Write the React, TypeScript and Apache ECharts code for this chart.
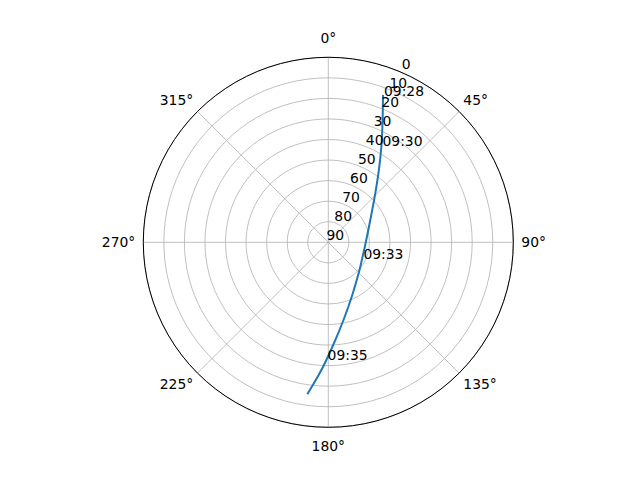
import React, { useEffect, useRef } from "react";
import * as echarts from "echarts";

// Track: radial value (0 at rim, 90 at centre) and azimuth (deg)
const trackRadius = [13.56, 24.9, 36.05, 47.07, 57.66, 66.87, 70.2, 72.0, 71.84, 69.7, 61.83, 51.48, 39.98, 27.78, 15.35];
const trackAzimuth = [20.37, 23.94, 28.67, 34.98, 44.63, 62.04, 76.07, 94.18, 114.03, 131.6, 155.52, 168.93, 177.27, 183.09, 187.87];

// Time annotations
const timeLabels = ["09:28", "09:30", "09:33", "09:35"];
const timeRadius = [13.56, 36.05, 71.84, 33.22];
const timeAzimuth = [20.37, 28.67, 114.03, 180.83];

// Radial tick labels
const radialTicks = [0, 10, 20, 30, 40, 50, 60, 70, 80, 90];
const radialLabelAngle = 22.5;

const FONT = "DejaVu Sans";
const FS = 13.9;

const plainText = {
  color: "#000000",
  opacity: 1,
  textBorderWidth: 0,
  textBorderColor: "#000000",
  textShadowBlur: 0,
  fontFamily: FONT,
  fontSize: FS,
};

export default function App() {
  const ref = useRef<HTMLDivElement>(null);
  useEffect(() => {
    if (!ref.current) return;
    const chart = echarts.init(ref.current, undefined, { renderer: "svg" });
    chart.setOption({
      animation: false,
      backgroundColor: "#ffffff",
      polar: { center: [328.3, 242.3], radius: 185 },
      angleAxis: {
        type: "value",
        min: 0,
        max: 360,
        interval: 45,
        startAngle: 90,
        clockwise: true,
        axisLine: { show: true, lineStyle: { color: "#000000", width: 1 } },
        axisTick: { show: false },
        axisLabel: {
          show: true,
          margin: 6,
          color: "#000000",
          fontFamily: FONT,
          fontSize: FS,
          formatter: (v: number) => {
            if (v >= 360) return "";
            return v % 90 === 0 ? `{a|${v}°}` : `{b|${v}°}`;
          },
          rich: {
            a: { padding: [6, 2, 6, 2], color: "#000000", fontFamily: FONT, fontSize: FS },
            b: { color: "#000000", fontFamily: FONT, fontSize: FS },
          },
        },
        splitLine: { show: true, lineStyle: { color: "#b0b0b0", width: 0.8 } },
        z: 3,
      },
      radiusAxis: {
        type: "value",
        min: 0,
        max: 90,
        interval: 10,
        inverse: true,
        axisLine: { show: false },
        axisTick: { show: false },
        axisLabel: { show: false },
        splitLine: { show: true, lineStyle: { color: "#b0b0b0", width: 0.8 } },
        z: 1,
      },
      series: [
        {
          type: "line",
          coordinateSystem: "polar",
          data: trackRadius.map((r, i) => [r, trackAzimuth[i]]),
          smooth: 0.3,
          showSymbol: false,
          lineStyle: { color: "#1f77b4", width: 2 },
          z: 4,
        },
        {
          type: "scatter",
          coordinateSystem: "polar",
          symbolSize: 0,
          silent: true,
          itemStyle: { opacity: 1 },
          data: radialTicks.map((r) => [r, radialLabelAngle]),
          label: {
            show: true,
            position: [7, -7],
            align: "center",
            verticalAlign: "middle",
            ...plainText,
            formatter: (p: any) => String(p.value[0]),
          },
          z: 5,
        },
        {
          type: "scatter",
          coordinateSystem: "polar",
          symbolSize: 0,
          silent: true,
          itemStyle: { opacity: 1 },
          data: timeLabels.map((t, i) => ({ value: [timeRadius[i], timeAzimuth[i]], name: t })),
          label: {
            show: true,
            position: [1, 3],
            align: "left",
            verticalAlign: "bottom",
            ...plainText,
            formatter: (p: any) => p.name,
          },
          z: 6,
        },
      ],
    });
    return () => chart.dispose();
  }, []);
  return (
    <div
      ref={ref}
      style={{ position: "fixed", left: 0, top: 0, width: 640, height: 480 }}
    />
  );
}
